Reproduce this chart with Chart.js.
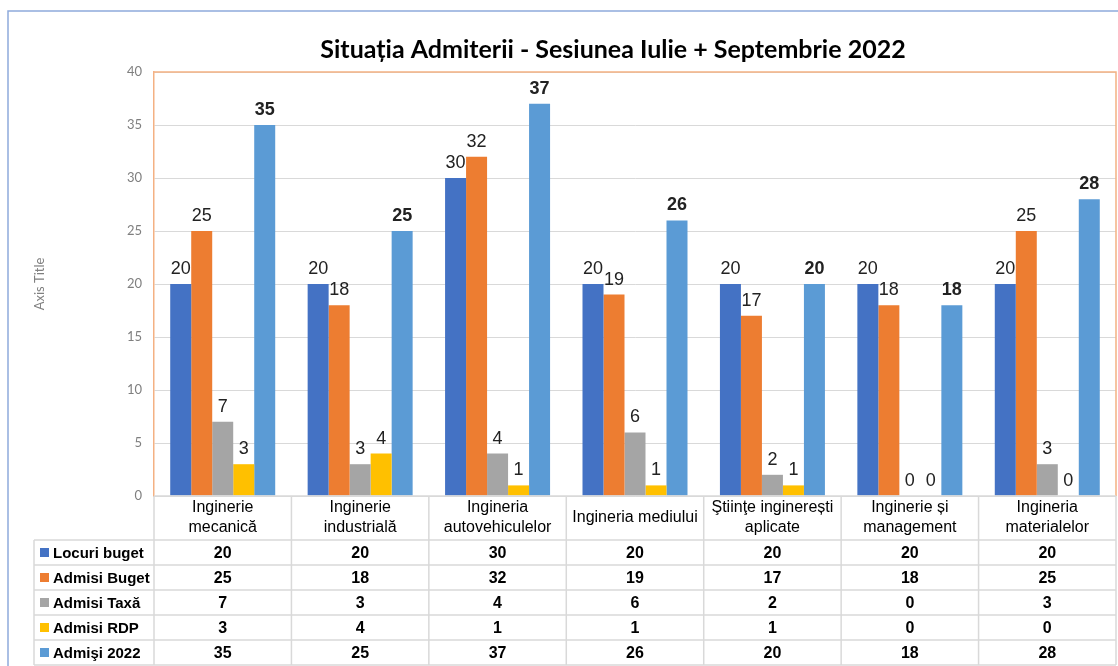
<!DOCTYPE html>
<html>
<head>
<meta charset="utf-8">
<script src="https://cdn.jsdelivr.net/npm/chart.js@4.4.1/dist/chart.umd.min.js"></script>
<style>
  html, body { margin: 0; padding: 0; background: #fff; }
  canvas { display: block; }
</style>
</head>
<body>
<canvas id="myChart" width="1118" height="666"></canvas>
<script>
// date grafic
const categories = [
  ['Inginerie', 'mecanică'],
  ['Inginerie', 'industrială'],
  ['Ingineria', 'autovehiculelor'],
  ['Ingineria mediului'],
  ['Ştiinţe inginerești', 'aplicate'],
  ['Inginerie și', 'management'],
  ['Ingineria', 'materialelor']
];
const seriesNames = ['Locuri buget', 'Admisi Buget', 'Admisi Taxă', 'Admisi RDP', 'Admişi 2022'];
const seriesColors = ['#4472c4', '#ed7d31', '#a5a5a5', '#ffc000', '#5b9bd5'];
const locuriBuget = [20, 20, 30, 20, 20, 20, 20];
const admisiBuget = [25, 18, 32, 19, 17, 18, 25];
const admisiTaxa  = [7, 3, 4, 6, 2, 0, 3];
const admisiRDP   = [3, 4, 1, 1, 1, 0, 0];
const admisi2022  = [35, 25, 37, 26, 20, 18, 28];
const yMin = 0, yMax = 40, yStep = 5;

const seriesData = [locuriBuget, admisiBuget, admisiTaxa, admisiRDP, admisi2022];

const chrome = {
  id: 'chrome',
  beforeDraw(chart) {
    const c = chart.ctx;
    c.save();
    c.fillStyle = '#fff';
    c.fillRect(0, 0, chart.width, chart.height);
    // rama exterioara
    c.strokeStyle = '#8faadc';
    c.lineWidth = 1.5;
    c.beginPath();
    c.moveTo(8, chart.height + 2);
    c.lineTo(8, 11);
    c.lineTo(chart.width + 2, 11);
    c.stroke();
    c.restore();
  },
  afterDatasetsDraw(chart) {
    const c = chart.ctx;
    c.save();
    c.textAlign = 'center';
    c.textBaseline = 'alphabetic';
    c.fillStyle = '#222';
    chart.data.datasets.forEach((ds, di) => {
      const meta = chart.getDatasetMeta(di);
      c.font = (di === 4 ? 'bold ' : '') + '18px "Liberation Sans", Arial, sans-serif';
      meta.data.forEach((bar, i) => {
        c.fillText(String(ds.data[i]), bar.x, bar.y - 10);
      });
    });
    c.restore();
  },
  afterDraw(chart) {
    const c = chart.ctx;
    const a = chart.chartArea;
    const xs = chart.scales.x;
    const n = categories.length;
    const colW = (a.right - a.left) / n;
    c.save();

    // titlu
    c.fillStyle = '#000';
    c.textAlign = 'center';
    c.textBaseline = 'middle';
    c.font = 'bold 25px Lato, "Open Sans", sans-serif';
    c.fillText('Situația Admiterii - Sesiunea Iulie + Septembrie 2022', 613, 50);

    // axis title
    c.save();
    c.translate(40, 284);
    c.rotate(-Math.PI / 2);
    c.fillStyle = '#7f7f7f';
    c.font = '13px Lato, "Open Sans", sans-serif';
    c.fillText('Axis Title', 0, 0);
    c.restore();

    // chenar zona grafic (sus + dreapta)
    c.strokeStyle = '#f4b183';
    c.lineWidth = 1.5;
    c.beginPath();
    c.moveTo(a.left, a.top);
    c.lineTo(a.right, a.top);
    c.lineTo(a.right, a.bottom);
    c.stroke();

    // tabel de date
    const headTop = a.bottom;
    const headBot = 540;
    const rowH = 25;
    const tableBot = headBot + rowH * seriesNames.length;
    const leftX = 34;
    c.strokeStyle = '#d9d9d9';
    c.lineWidth = 1.5;
    c.beginPath();
    // orizontale
    c.moveTo(a.left, headTop); c.lineTo(a.right, headTop);
    for (let r = 0; r <= seriesNames.length; r++) {
      const y = headBot + r * rowH;
      c.moveTo(leftX, y); c.lineTo(a.right, y);
    }
    // verticale
    for (let i = 0; i <= n; i++) {
      const x = a.left + i * colW;
      c.moveTo(x, headTop); c.lineTo(x, tableBot);
    }
    c.moveTo(leftX, headBot); c.lineTo(leftX, tableBot);
    c.stroke();

    // cap de tabel
    c.fillStyle = '#000';
    c.textAlign = 'center';
    c.textBaseline = 'middle';
    c.font = '16px "Liberation Sans", Arial, sans-serif';
    categories.forEach((lines, i) => {
      const cx = xs.getPixelForValue(i);
      const cy = (headTop + headBot) / 2;
      lines.forEach((t, k) => {
        c.fillText(t, cx, cy + (k - (lines.length - 1) / 2) * 20);
      });
    });

    // randuri
    seriesNames.forEach((name, r) => {
      const cy = headBot + r * rowH + rowH / 2;
      c.fillStyle = seriesColors[r];
      c.fillRect(40, cy - 4.5, 9, 9);
      c.fillStyle = '#000';
      c.textAlign = 'left';
      c.font = 'bold 15px "Liberation Sans", Arial, sans-serif';
      c.fillText(name, 53, cy + 1);
      c.textAlign = 'center';
      c.font = 'bold 16px "Liberation Sans", Arial, sans-serif';
      seriesData[r].forEach((v, i) => {
        c.fillText(String(v), xs.getPixelForValue(i), cy + 1);
      });
    });
    c.restore();
  }
};

const ctx = document.getElementById('myChart');
const myChart = new Chart(ctx, {
  type: 'bar',
  data: {
    labels: categories.map(l => l.join(' ')),
    datasets: seriesNames.map((name, i) => ({
      label: name,
      data: seriesData[i],
      backgroundColor: seriesColors[i],
      barPercentage: 1,
      categoryPercentage: 0.764
    }))
  },
  options: {
    responsive: false,
    animation: false,
    layout: { padding: { left: 0, top: 72, right: 2, bottom: 170 } },
    plugins: {
      legend: { display: false },
      title: { display: false },
      tooltip: { enabled: false }
    },
    scales: {
      x: { display: false },
      y: {
        min: yMin,
        max: yMax,
        ticks: {
          stepSize: yStep,
          color: '#7f7f7f',
          padding: 12,
          font: { family: 'Lato, "Open Sans", sans-serif', size: 13 }
        },
        grid: { color: '#d9d9d9', drawTicks: false },
        border: { color: '#f4b183', width: 1.5 },
        afterFit(scale) { scale.width = 154; }
      }
    }
  },
  plugins: [chrome]
});
</script>
</body>
</html>
